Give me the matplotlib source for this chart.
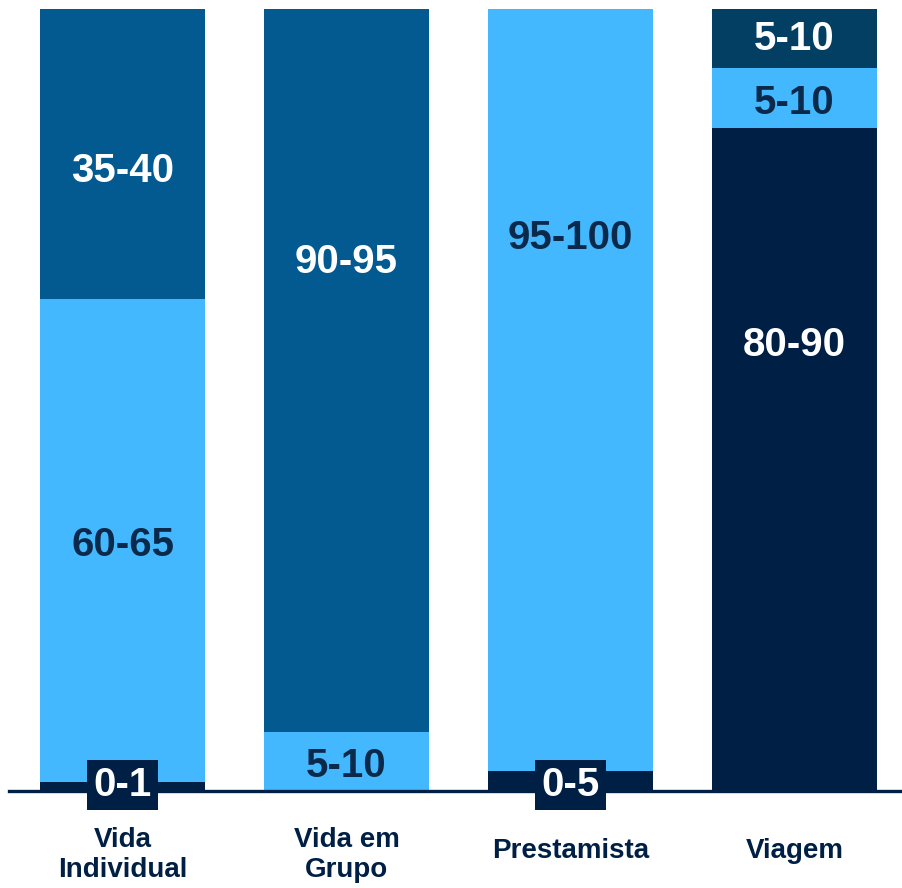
import matplotlib
matplotlib.use("Agg")
import matplotlib.pyplot as plt
from matplotlib import font_manager

categories = ["Vida\nIndividual", "Vida em\nGrupo", "Prestamista", "Viagem"]

# stacked shares per product, bottom to top (percent of premiums)
segment_values = [
    [1.2, 61.7, 37.1],
    [7.5, 92.5],
    [2.5, 97.5],
    [84.8, 7.6, 7.6],
]
segment_labels = [
    ["0-1", "60-65", "35-40"],
    ["5-10", "90-95"],
    ["0-5", "95-100"],
    ["80-90", "5-10", "5-10"],
]
segment_kinds = [
    ["navy", "light", "mid"],
    ["light", "mid"],
    ["navy", "light"],
    ["navy", "light", "teal"],
]

NAVY = "#001F45"
COLORS = {"navy": NAVY, "light": "#43B8FF", "mid": "#025A90", "teal": "#023F62"}
TEXT_ON = {"navy": "white", "light": "#0B2A4B", "mid": "white", "teal": "white"}

# where each label sits inside its segment, as a fraction from segment bottom
label_pos = [
    [None, 0.49, 0.44],
    [0.43, 0.65],
    [None, 0.70],
    [0.672, 0.42, 0.5],
]

installed = {f.name for f in font_manager.fontManager.ttflist}
family = [f for f in ["Liberation Sans Narrow", "Liberation Sans", "DejaVu Sans"] if f in installed]
plt.rcParams["font.family"] = family

fig = plt.figure(figsize=(9.02, 8.88), dpi=100)
ax = fig.add_axes([9 / 902, 97 / 888, 891 / 902, 782 / 888])

width = 0.737
for i, (vals, labs, kinds) in enumerate(zip(segment_values, segment_labels, segment_kinds)):
    bottom = 0.0
    for j, (v, lab, kind) in enumerate(zip(vals, labs, kinds)):
        ax.bar(i, v, width=width, bottom=bottom, color=COLORS[kind], linewidth=0, zorder=2)
        frac = label_pos[i][j]
        if frac is None:
            # thin slice at the base: boxed label straddling the axis line
            ax.text(i, 0.8, lab, ha="center", va="center", fontsize=29, fontweight="bold",
                    color="white", zorder=5,
                    bbox=dict(boxstyle="square,pad=0.15", fc=NAVY, ec="none"))
        else:
            ax.text(i, bottom + v * frac, lab, ha="center", va="center", fontsize=29,
                    fontweight="bold", color=TEXT_ON[kind], zorder=4)
        bottom += v

for i, cat in enumerate(categories):
    nlines = cat.count("\n") + 1
    y = -(60 + 4 * (nlines - 1)) / 782
    ax.text(i, y, cat, transform=ax.get_xaxis_transform(), ha="center", va="center",
            fontsize=20, fontweight="bold", color=NAVY, linespacing=1.2)

ax.set_xlim(-0.507, 3.471)
ax.set_ylim(0, 100)
for side in ["left", "right", "top"]:
    ax.spines[side].set_visible(False)
ax.spines["bottom"].set_color(NAVY)
ax.spines["bottom"].set_linewidth(2.4)
ax.spines["bottom"].set_zorder(3)
ax.set_xticks([])
ax.set_yticks([])

fig.savefig("out.png", dpi=100, facecolor="white")
